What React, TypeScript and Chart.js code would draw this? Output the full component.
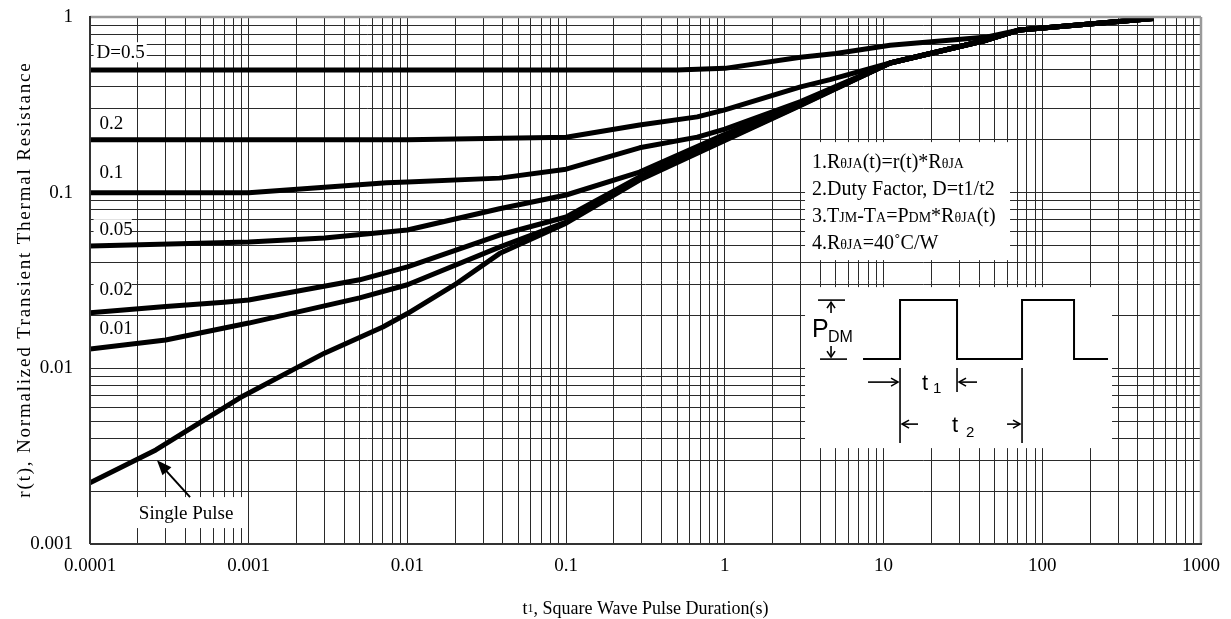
import React, { useEffect, useRef } from 'react';
import { Chart, registerables } from 'chart.js';

Chart.register(...registerables);

// ---------- data ----------
const xTickLabels = ['0.0001', '0.001', '0.01', '0.1', '1', '10', '100', '1000'];
const yTickLabels = ['0.001', '0.01', '0.1', '1'];
const xMinExp = -4;
const yMinExp = -3;

const seriesNames = ['D=0.5', 'D=0.2', 'D=0.1', 'D=0.05', 'D=0.02', 'D=0.01', 'Single Pulse'];

const tD05 = [0.0001, 0.5, 1, 3, 5, 11, 45, 72, 500];
const rD05 = [0.5, 0.5, 0.51, 0.59, 0.62, 0.69, 0.77, 0.844, 0.98];

const tD02 = [0.0001, 0.01, 0.1, 0.29, 0.67, 1, 3, 4.6, 11, 45, 72, 500];
const rD02 = [0.2, 0.2, 0.207, 0.243, 0.27, 0.296, 0.4, 0.44, 0.547, 0.74, 0.844, 0.98];

const tD01 = [0.0001, 0.001, 0.0074, 0.01, 0.038, 0.1, 0.29, 0.67, 1, 3, 11, 45, 72, 500];
const rD01 = [0.1, 0.1, 0.114, 0.115, 0.121, 0.136, 0.18, 0.207, 0.23, 0.33, 0.547, 0.74, 0.844, 0.98];

const tD005 = [0.0001, 0.001, 0.003, 0.01, 0.038, 0.1, 0.29, 1, 3, 11, 45, 72, 500];
const rD005 = [0.0497, 0.0524, 0.0552, 0.0613, 0.081, 0.097, 0.131, 0.215, 0.322, 0.547, 0.74, 0.844, 0.98];

const tD002 = [0.0001, 0.0003, 0.0007, 0.001, 0.005, 0.01, 0.038, 0.1, 0.29, 1, 3, 11, 45, 72, 500];
const rD002 = [0.0207, 0.0225, 0.0238, 0.0245, 0.0319, 0.0378, 0.0574, 0.0727, 0.123, 0.205, 0.318, 0.547, 0.74, 0.844, 0.98];

const tD001 = [0.0001, 0.0003, 0.001, 0.005, 0.01, 0.038, 0.1, 0.29, 1, 3, 11, 45, 72, 500];
const rD001 = [0.0129, 0.0145, 0.0181, 0.0252, 0.0299, 0.049, 0.068, 0.12, 0.2, 0.316, 0.547, 0.74, 0.844, 0.98];

const tSingle = [0.0001, 0.00026, 0.00088, 0.003, 0.007, 0.01, 0.0206, 0.038, 0.1, 0.29, 1, 3, 11, 45, 72, 500];
const rSingle = [0.00223, 0.00343, 0.0068, 0.0122, 0.0172, 0.0205, 0.0306, 0.045, 0.067, 0.118, 0.198, 0.314, 0.547, 0.74, 0.844, 0.98];

const seriesT = [tD05, tD02, tD01, tD005, tD002, tD001, tSingle];
const seriesR = [rD05, rD02, rD01, rD005, rD002, rD001, rSingle];

// curve labels (text + anchor in data units)
const curveLabelText = ['D=0.5', '0.2', '0.1', '0.05', '0.02', '0.01'];
const curveLabelR = [0.63, 0.249, 0.131, 0.062, 0.0283, 0.017];

const notesLines: [string, boolean][][] = [
  [['1.R', false], ['θJA', true], ['(t)=r(t)*R', false], ['θJA', true]],
  [['2.Duty Factor, D=t1/t2', false]],
  [['3.T', false], ['JM', true], ['-T', false], ['A', true], ['=P', false], ['DM', true], ['*R', false], ['θJA', true], ['(t)', false]],
  [['4.R', false], ['θJA', true], ['=40', false], ['˚', false], ['C/W', false]],
];

const xTitleRuns: [string, boolean][] = [['t', false], ['1', true], [', Square Wave Pulse Duration(s)', false]];
const yTitle = 'r(t), Normalized Transient Thermal Resistance';
const singlePulseText = 'Single Pulse';

// ---------- styles ----------
const SERIF = "'Liberation Serif', 'Times New Roman', serif";
const SANS = "'Liberation Sans', Arial, sans-serif";

function logTicks(minExp: number, decades: number) {
  const out: { value: number }[] = [];
  for (let e = minExp; e < minExp + decades; e++) {
    for (let m = 1; m <= 9; m++) out.push({ value: parseFloat((m * Math.pow(10, e)).toPrecision(3)) });
  }
  out.push({ value: parseFloat(Math.pow(10, minExp + decades).toPrecision(3)) });
  return out;
}

function decadeLabel(v: number, labels: string[], minExp: number) {
  const lg = Math.log10(v);
  if (Math.abs(lg - Math.round(lg)) < 1e-6) {
    return labels[Math.round(lg) - minExp] ?? '';
  }
  return '';
}

function drawRuns(ctx: CanvasRenderingContext2D, x: number, y: number, parts: [string, boolean][], big: number, small: number, family: string) {
  let cx = x;
  ctx.textAlign = 'left';
  for (const [s, isSmall] of parts) {
    ctx.font = `${isSmall ? small : big}px ${family}`;
    ctx.fillText(s, cx, y);
    cx += ctx.measureText(s).width;
  }
  return cx;
}

function runsWidth(ctx: CanvasRenderingContext2D, parts: [string, boolean][], big: number, small: number, family: string) {
  let w = 0;
  for (const [s, isSmall] of parts) {
    ctx.font = `${isSmall ? small : big}px ${family}`;
    w += ctx.measureText(s).width;
  }
  return w;
}

function arrowHead(ctx: CanvasRenderingContext2D, x1: number, y1: number, x2: number, y2: number, len: number, half: number, filled: boolean) {
  const a = Math.atan2(y2 - y1, x2 - x1);
  const bx = x2 - len * Math.cos(a);
  const by = y2 - len * Math.sin(a);
  const px = -Math.sin(a) * half;
  const py = Math.cos(a) * half;
  ctx.beginPath();
  ctx.moveTo(bx + px, by + py);
  ctx.lineTo(x2, y2);
  ctx.lineTo(bx - px, by - py);
  if (filled) {
    ctx.closePath();
    ctx.fill();
  } else {
    ctx.stroke();
  }
}

function line(ctx: CanvasRenderingContext2D, x1: number, y1: number, x2: number, y2: number) {
  ctx.beginPath();
  ctx.moveTo(x1, y1);
  ctx.lineTo(x2, y2);
  ctx.stroke();
}

const annotPlugin = {
  id: 'annot',
  beforeDatasetsDraw(chart: any) {
    const ctx: CanvasRenderingContext2D = chart.ctx;
    const xs = chart.scales.x;
    const ys = chart.scales.y;
    ctx.save();
    ctx.fillStyle = '#fff';
    // notes box
    const nx = xs.getPixelForValue(3.2), ny = ys.getPixelForValue(0.194);
    ctx.fillRect(nx, ny, 205, 118);
    // pulse box
    const px = xs.getPixelForValue(3.2), py = ys.getPixelForValue(0.029);
    ctx.fillRect(px, py, 307, 161);
    // curve label backgrounds
    ctx.font = `19px ${SERIF}`;
    const lx = xs.getPixelForValue(1.1e-4);
    curveLabelText.forEach((t, i) => {
      const cy = ys.getPixelForValue(curveLabelR[i]);
      const w = ctx.measureText(t).width;
      ctx.fillRect(lx - 3, cy - 10, w + 5, 20);
    });
    // single pulse box
    const sx = xs.getPixelForValue(4.03e-4), sy = ys.getPixelForValue(0.0015);
    ctx.fillRect(sx - 54, sy - 16, 112, 31);
    ctx.restore();
  },
  afterDatasetsDraw(chart: any) {
    const ctx: CanvasRenderingContext2D = chart.ctx;
    const xs = chart.scales.x;
    const ys = chart.scales.y;
    const ca = chart.chartArea;
    ctx.save();
    // frame
    ctx.strokeStyle = '#9a9a9a';
    ctx.lineWidth = 2.5;
    line(ctx, ca.left, ca.top, ca.right, ca.top);
    line(ctx, ca.right, ca.top, ca.right, ca.bottom);
    ctx.strokeStyle = '#333';
    ctx.lineWidth = 2;
    line(ctx, ca.left, ca.top - 1, ca.left, ca.bottom);
    line(ctx, ca.left, ca.bottom, ca.right + 1, ca.bottom);

    ctx.fillStyle = '#000';
    ctx.strokeStyle = '#000';
    ctx.textBaseline = 'middle';
    ctx.textAlign = 'left';
    // curve labels
    ctx.font = `19px ${SERIF}`;
    const lx = xs.getPixelForValue(1.1e-4);
    curveLabelText.forEach((t, i) => {
      ctx.fillText(t, lx + (i === 0 ? 0 : 3), ys.getPixelForValue(curveLabelR[i]) + 1);
    });

    // single pulse label + arrow
    const sx = xs.getPixelForValue(4.03e-4), sy = ys.getPixelForValue(0.0015);
    ctx.textAlign = 'center';
    ctx.font = `19px ${SERIF}`;
    ctx.fillText(singlePulseText, sx, sy + 1);
    const ax1 = xs.getPixelForValue(4.27e-4), ay1 = ys.getPixelForValue(0.00185);
    const ax2 = xs.getPixelForValue(2.64e-4), ay2 = ys.getPixelForValue(0.003);
    ctx.lineWidth = 2;
    line(ctx, ax1, ay1, ax2 + 5, ay2 + 6);
    arrowHead(ctx, ax1, ay1, ax2, ay2, 15, 6, true);

    // notes
    const nx = xs.getPixelForValue(3.2), ny = ys.getPixelForValue(0.194);
    ctx.textBaseline = 'alphabetic';
    notesLines.forEach((parts, i) => {
      drawRuns(ctx, nx + 7, ny + 26 + i * 27, parts, 20, 14, SERIF);
    });

    // pulse diagram
    const ox = xs.getPixelForValue(3.2), oy = ys.getPixelForValue(0.029);
    ctx.lineWidth = 2;
    ctx.beginPath();
    ctx.moveTo(ox + 58, oy + 72);
    ctx.lineTo(ox + 95, oy + 72);
    ctx.lineTo(ox + 95, oy + 13);
    ctx.lineTo(ox + 152, oy + 13);
    ctx.lineTo(ox + 152, oy + 72);
    ctx.lineTo(ox + 217, oy + 72);
    ctx.lineTo(ox + 217, oy + 13);
    ctx.lineTo(ox + 269, oy + 13);
    ctx.lineTo(ox + 269, oy + 72);
    ctx.lineTo(ox + 303, oy + 72);
    ctx.stroke();
    ctx.lineWidth = 1.6;
    line(ctx, ox + 95, oy + 81, ox + 95, oy + 156);
    line(ctx, ox + 152, oy + 81, ox + 152, oy + 105);
    line(ctx, ox + 217, oy + 81, ox + 217, oy + 156);
    // PDM markers
    line(ctx, ox + 13, oy + 13, ox + 40, oy + 13);
    line(ctx, ox + 15, oy + 72, ox + 42, oy + 72);
    line(ctx, ox + 26, oy + 26, ox + 26, oy + 15);
    arrowHead(ctx, ox + 26, oy + 26, ox + 26, oy + 15, 6, 4, false);
    line(ctx, ox + 26, oy + 59, ox + 26, oy + 70);
    arrowHead(ctx, ox + 26, oy + 59, ox + 26, oy + 70, 6, 4, false);
    // t1 arrows
    line(ctx, ox + 63, oy + 95, ox + 93, oy + 95);
    arrowHead(ctx, ox + 63, oy + 95, ox + 93, oy + 95, 7, 4, false);
    line(ctx, ox + 172, oy + 95, ox + 154, oy + 95);
    arrowHead(ctx, ox + 172, oy + 95, ox + 154, oy + 95, 7, 4, false);
    // t2 arrows
    line(ctx, ox + 113, oy + 137, ox + 97, oy + 137);
    arrowHead(ctx, ox + 113, oy + 137, ox + 97, oy + 137, 7, 4, false);
    line(ctx, ox + 202, oy + 137, ox + 215, oy + 137);
    arrowHead(ctx, ox + 202, oy + 137, ox + 215, oy + 137, 7, 4, false);
    // texts
    ctx.textAlign = 'left';
    ctx.font = `25px ${SANS}`;
    ctx.fillText('P', ox + 7, oy + 50);
    ctx.font = `16px ${SANS}`;
    ctx.fillText('DM', ox + 23, oy + 55);
    ctx.font = `22px ${SANS}`;
    ctx.fillText('t', ox + 117, oy + 103);
    ctx.fillText('t', ox + 147, oy + 145);
    ctx.font = `15px ${SANS}`;
    ctx.fillText('1', ox + 128, oy + 106);
    ctx.fillText('2', ox + 161, oy + 150);

    // axis titles
    ctx.fillStyle = '#000';
    ctx.textBaseline = 'middle';
    const tw = runsWidth(ctx, xTitleRuns, 18, 12, SERIF);
    drawRuns(ctx, (ca.left + ca.right) / 2 - tw / 2, 609, xTitleRuns, 18, 12, SERIF);

    ctx.save();
    ctx.translate(25, (ca.top + ca.bottom) / 2);
    ctx.rotate(-Math.PI / 2);
    ctx.font = `19px ${SERIF}`;
    const chars = [...yTitle];
    const widths = chars.map((c) => ctx.measureText(c).width);
    const spacing = 1.8;
    const total = widths.reduce((a, b) => a + b, 0) + spacing * (chars.length - 1);
    let cx = -total / 2;
    ctx.textAlign = 'left';
    chars.forEach((c, i) => {
      ctx.fillText(c, cx, 0);
      cx += widths[i] + spacing;
    });
    ctx.restore();

    ctx.restore();
  },
};

export default function App() {
  const ref = useRef<HTMLCanvasElement | null>(null);
  useEffect(() => {
    if (!ref.current) return;
    const datasets = seriesNames.map((name, i) => ({
      label: name,
      data: seriesT[i].map((t, j) => ({ x: t, y: seriesR[i][j] })),
      borderColor: '#000',
      backgroundColor: '#000',
      borderWidth: 5,
      pointRadius: 0,
      fill: false,
      tension: 0,
      borderJoinStyle: 'round' as const,
      borderCapStyle: 'butt' as const,
    }));
    const gridOpts = { color: '#2a2a2a', lineWidth: 1, drawTicks: false };
    const chart = new Chart(ref.current, {
      type: 'line',
      data: { datasets },
      options: {
        animation: false,
        responsive: false,
        devicePixelRatio: 1,
        layout: { padding: { left: 0, right: 30, top: 17, bottom: 0 } },
        plugins: { legend: { display: false }, tooltip: { enabled: false }, title: { display: false } },
        scales: {
          x: {
            type: 'logarithmic',
            position: 'bottom',
            min: 0.0001,
            max: 1000,
            grid: gridOpts,
            border: { display: false },
            afterBuildTicks: (s: any) => { s.ticks = logTicks(xMinExp, 7); },
            afterFit: (s: any) => { s.height = 75; s.paddingLeft = 0; s.paddingRight = 0; },
            ticks: {
              autoSkip: false,
              maxRotation: 0,
              minRotation: 0,
              padding: 11,
              color: '#000',
              font: { family: SERIF, size: 19 },
              callback: (v: any) => decadeLabel(Number(v), xTickLabels, xMinExp),
            },
          },
          y: {
            type: 'logarithmic',
            position: 'left',
            min: 0.001,
            max: 1,
            grid: gridOpts,
            border: { display: false },
            afterBuildTicks: (s: any) => { s.ticks = logTicks(yMinExp, 3); },
            afterFit: (s: any) => { s.width = 90; s.paddingTop = 0; s.paddingBottom = 0; },
            ticks: {
              autoSkip: false,
              padding: 17,
              color: '#000',
              font: { family: SERIF, size: 19 },
              callback: (v: any) => decadeLabel(Number(v), yTickLabels, yMinExp),
            },
          },
        },
      },
      plugins: [annotPlugin],
    } as any);
    return () => chart.destroy();
  }, []);
  return (
    <div style={{ position: 'absolute', left: 0, top: 0, width: 1231, height: 619, background: '#fff' }}>
      <canvas ref={ref} width={1231} height={619} style={{ display: 'block' }} />
    </div>
  );
}
